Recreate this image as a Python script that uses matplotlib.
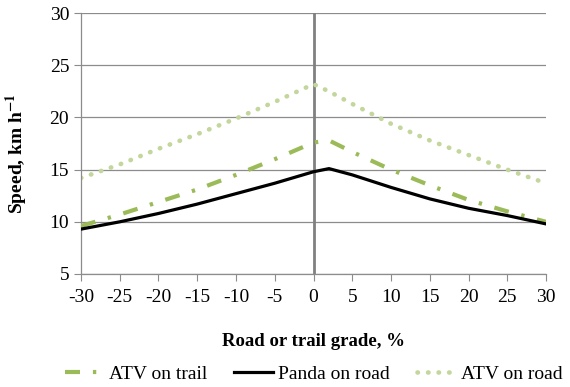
import numpy as np
import matplotlib.pyplot as plt

# grade (%) and speeds (km/h)
grade = [-30, -25, -20, -15, -10, -5, 0, 2, 5, 10, 15, 20, 25, 30]
atv_trail = [9.6, 10.7, 11.9, 13.1, 14.5, 16.0, 17.6, 17.8, 16.7, 15.0, 13.5, 12.1, 11.0, 10.0]
panda_road = [9.3, 10.0, 10.8, 11.7, 12.7, 13.7, 14.8, 15.1, 14.5, 13.3, 12.2, 11.3, 10.6, 9.8]
atv_road = [14.2, 15.5, 17.0, 18.4, 19.9, 21.5, 23.2, 22.5, 21.3, 19.4, 17.8, 16.4, 15.0, 13.7]

xticks = np.arange(-30, 31, 5)
yticks = np.arange(5, 31, 5)

plt.rcParams['font.family'] = ['Liberation Serif', 'DejaVu Serif']
plt.rcParams['axes.unicode_minus'] = False
plt.rcParams['mathtext.fontset'] = 'stix'

fig = plt.figure(figsize=(5.7, 3.87), dpi=100)
ax = fig.add_axes([0.142, 0.292, 0.816, 0.674])

ax.axvline(0, color='#808080', lw=2, zorder=1)

ax.plot(grade, atv_trail, color='#9bbb59', lw=3, linestyle=(0, (3.6, 3.1, 0.8, 3.1)),
        label='ATV on trail', zorder=3)
ax.plot(grade, panda_road, color='black', lw=2.3, label='Panda on road', zorder=4)
ax.plot(grade, atv_road, color='#c3d69b', lw=3.3, linestyle=(0, (0.1, 2.2)),
        dash_capstyle='round', label='ATV on road', zorder=2)

ax.set_xlim(-30, 30)
ax.set_ylim(5, 30)
ax.set_xticks(xticks)
ax.set_yticks(yticks)
ax.grid(axis='y', color='#8c8c8c', lw=0.9)
ax.set_axisbelow(True)

for s in ['top', 'right']:
    ax.spines[s].set_visible(False)
for s in ['left', 'bottom']:
    ax.spines[s].set_color('#8c8c8c')
    ax.spines[s].set_linewidth(0.9)

ax.tick_params(axis='both', direction='out', color='#8c8c8c', labelsize=14, length=5)
ax.tick_params(axis='x', pad=6)

ax.set_xlabel('Road or trail grade, %', fontsize=13.5, fontweight='bold')
ax.xaxis.set_label_coords(0.5, -0.225)
ax.set_ylabel('Speed, km h$^{\\mathbf{-1}}$', fontsize=14, fontweight='bold')
ax.yaxis.set_label_coords(-0.11, 0.46)

ax.legend(loc='center', bbox_to_anchor=(0.5, -0.385), ncol=3, frameon=False,
          fontsize=14, handlelength=2.0, columnspacing=1.4, handletextpad=0.25)

plt.savefig('out.png', dpi=100)
